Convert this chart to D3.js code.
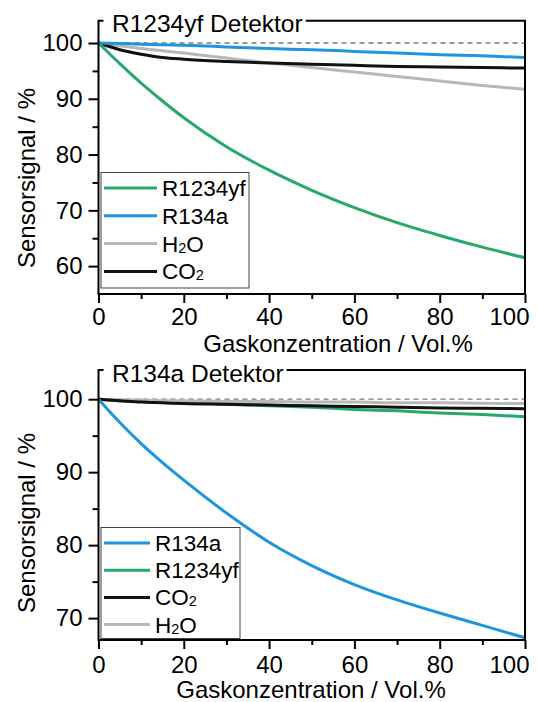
<html>
<script src='https://d3js.org/d3.v7.min.js'></script>
<style>
body { margin: 0; background: #fff; }
text { font-family: "Liberation Sans", Arial, sans-serif; fill: #000; }
</style>
<body>
<svg width=537 height=702></svg>

<script>
// Gaskonzentration / Vol.%
var conc = [0, 5, 10, 15, 20, 30, 40, 50, 60, 70, 80, 90, 100];
var xTicks = [0, 20, 40, 60, 80, 100];
var xMinor = [10, 30, 50, 70, 90];

// R1234yf Detektor
var topR1234yf = [100, 96.3, 92.8, 89.6, 86.6, 81.4, 77.2, 73.6, 70.5, 67.8, 65.5, 63.4, 61.5];
var topR134a   = [100, 99.9, 99.8, 99.7, 99.6, 99.3, 99.0, 98.8, 98.5, 98.2, 97.9, 97.7, 97.4];
var topH2O     = [100, 99.5, 99.0, 98.6, 98.2, 97.3, 96.4, 95.6, 94.8, 94.0, 93.2, 92.4, 91.7];
var topCO2     = [100, 98.8, 98.0, 97.4, 97.1, 96.7, 96.4, 96.2, 96.0, 95.8, 95.7, 95.6, 95.5];
var topYTicks = [60, 70, 80, 90, 100];
var topYMinor = [65, 75, 85, 95];

// R134a Detektor
var botR134a   = [100, 96.8, 93.9, 91.3, 88.9, 84.4, 80.4, 77.2, 74.6, 72.5, 70.7, 69.0, 67.3];
var botR1234yf = [100, 99.8, 99.7, 99.6, 99.5, 99.3, 99.1, 98.9, 98.6, 98.4, 98.1, 97.9, 97.6];
var botCO2     = [100, 99.8, 99.6, 99.5, 99.4, 99.3, 99.2, 99.1, 99.0, 98.9, 98.8, 98.75, 98.7];
var botH2O     = [100, 99.9, 99.9, 99.8, 99.8, 99.7, 99.7, 99.6, 99.6, 99.5, 99.5, 99.45, 99.4];
var botYTicks = [70, 80, 90, 100];
var botYMinor = [75, 85, 95];

var colors = {
  "R1234yf": "#27a96b",
  "R134a": "#1e95dc",
  "H2O": "#b8b8b8",
  "CO2": "#111111"
};

var svg = d3.select("svg");

function addLabel(sel, name) {
  // chemical formulas get a small subscript 2
  var parts = {"H2O": ["H", "2", "O"], "CO2": ["CO", "2", ""]}[name];
  if (!parts) { sel.text(name); return; }
  sel.append("tspan").text(parts[0]);
  sel.append("tspan").attr("font-size", 14.5).attr("dy", 1).text(parts[1]);
  if (parts[2]) sel.append("tspan").attr("dy", -1).text(parts[2]);
}

function drawPanel(p) {
  var x = d3.scaleLinear().domain([0, 100]).range([98.5, 525]);
  var y = d3.scaleLinear().domain(p.yDomain).range(p.yRange);
  var top = p.yRange[1], bottom = p.yRange[0];
  var g = svg.append("g");

  // dashed reference at 100 %
  g.append("line")
    .attr("x1", x(0)).attr("x2", x(100))
    .attr("y1", y(100)).attr("y2", y(100))
    .attr("stroke", "#777").attr("stroke-width", 1.3)
    .attr("stroke-dasharray", "5,4");

  var line = d3.line()
    .x(function(d) { return x(d[0]); })
    .y(function(d) { return y(d[1]); })
    .curve(d3.curveMonotoneX);

  // draw in given order
  p.drawOrder.forEach(function(name) {
    var vals = p.series[name];
    g.append("path")
      .datum(conc.map(function(c, i) { return [c, vals[i]]; }))
      .attr("fill", "none")
      .attr("stroke", colors[name])
      .attr("stroke-width", 3)
      .attr("d", line);
  });

  // frame
  g.append("path")
    .attr("d", "M" + x(0) + "," + bottom + "V" + top + "H" + x(100) + "V" + bottom + "Z")
    .attr("fill", "none").attr("stroke", "#000").attr("stroke-width", 2);

  // x axis
  var xAxis = g.append("g").attr("transform", "translate(0," + bottom + ")")
    .call(d3.axisBottom(x).tickValues(xTicks).tickSize(9).tickPadding(p.xPad));
  xAxis.selectAll("line").attr("stroke-width", 2);
  // last label kept inside the page
  xAxis.selectAll(".tick").filter(function(d) { return d === 100; })
    .select("text").attr("text-anchor", "end").attr("x", 4);
  g.append("g").attr("transform", "translate(0," + bottom + ")")
    .call(d3.axisBottom(x).tickValues(xMinor).tickSize(5).tickFormat(""))
    .selectAll("line").attr("stroke-width", 2);

  // y axis
  var yAxis = g.append("g").attr("transform", "translate(" + x(0) + ",0)")
    .call(d3.axisLeft(y).tickValues(p.yTicks).tickSize(10).tickPadding(6));
  yAxis.selectAll("line").attr("stroke-width", 2);
  g.append("g").attr("transform", "translate(" + x(0) + ",0)")
    .call(d3.axisLeft(y).tickValues(p.yMinor).tickSize(6).tickFormat(""))
    .selectAll("line").attr("stroke-width", 2);

  svg.selectAll(".domain").remove();
  g.selectAll(".tick text").attr("font-size", 24).attr("font-family", null);

  // axis titles
  g.append("text")
    .attr("x", p.xTitleX).attr("y", bottom + 58)
    .attr("text-anchor", "middle").attr("font-size", 24)
    .text("Gaskonzentration / Vol.%");

  g.append("text")
    .attr("transform", "translate(35," + p.yTitleY + ") rotate(-90)")
    .attr("text-anchor", "middle").attr("font-size", 24)
    .text("Sensorsignal / %");

  // panel title over the frame
  var t = g.append("text")
    .attr("x", 112).attr("y", top + 11.5)
    .attr("font-size", 24.5)
    .text(p.title);
  var bb = t.node().getBBox();
  g.append("rect")
    .attr("x", x(0) + 5).attr("y", top - 3)
    .attr("width", bb.x + bb.width - x(0) - 2).attr("height", 6)
    .attr("fill", "#fff");
  t.raise();

  // legend
  var lg = g.append("g");
  lg.append("rect")
    .attr("x", 101).attr("y", p.legendTop)
    .attr("width", p.legendW).attr("height", p.legendBottom - p.legendTop)
    .attr("fill", "#fff").attr("stroke", "#444").attr("stroke-width", 1);
  p.legend.forEach(function(name, i) {
    var ly = p.legendTop + 15.5 + i * p.legendStep;
    lg.append("line")
      .attr("x1", 104).attr("x2", p.legendLineEnd)
      .attr("y1", ly).attr("y2", ly)
      .attr("stroke", colors[name]).attr("stroke-width", 3);
    var lt = lg.append("text")
      .attr("x", p.legendLineEnd + 5).attr("y", ly + 8)
      .attr("font-size", 22.5);
    addLabel(lt, name);
  });
}

drawPanel({
  title: "R1234yf Detektor",
  yDomain: [55, 104], yRange: [294, 20.7],
  yTicks: topYTicks, yMinor: topYMinor, xPad: 5,
  series: {"R1234yf": topR1234yf, "R134a": topR134a, "H2O": topH2O, "CO2": topCO2},
  drawOrder: ["H2O", "CO2", "R134a", "R1234yf"],
  legend: ["R1234yf", "R134a", "H2O", "CO2"],
  legendTop: 172.5, legendBottom: 288, legendStep: 27.8,
  legendW: 148, legendLineEnd: 157,
  xTitleX: 338, yTitleY: 178
});

drawPanel({
  title: "R134a Detektor",
  yDomain: [67, 104], yRange: [640, 370],
  yTicks: botYTicks, yMinor: botYMinor, xPad: 7,
  series: {"R134a": botR134a, "R1234yf": botR1234yf, "CO2": botCO2, "H2O": botH2O},
  drawOrder: ["R1234yf", "H2O", "CO2", "R134a"],
  legend: ["R134a", "R1234yf", "CO2", "H2O"],
  legendTop: 527.5, legendBottom: 638.5, legendStep: 27.2,
  legendW: 139, legendLineEnd: 150,
  xTitleX: 311, yTitleY: 523
});
</script>
</body>
</html>
